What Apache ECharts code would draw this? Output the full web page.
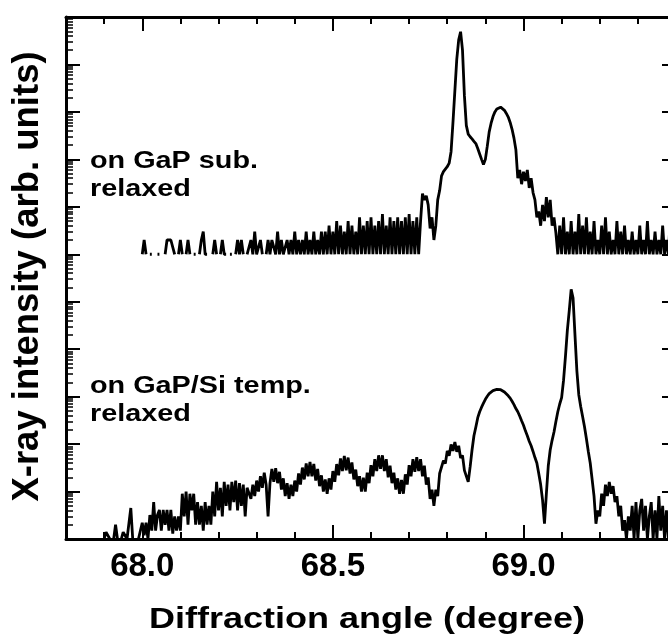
<!DOCTYPE html>
<html><head><meta charset="utf-8">
<script src="https://cdn.jsdelivr.net/npm/echarts@6/dist/echarts.min.js"></script>
<style>html,body{margin:0;padding:0;background:#fff;overflow:hidden}#c{width:690px;height:640px}</style>
</head><body><div id="c"></div>
<script>
// scan grid (degrees) shared by both measured curves
const scanStart = 67.88;
const scanStep = 0.005;
// vertical offset applied to the upper curve (GaP substrate)
const subOffset = 1e6;

// counts, on GaP substrate (null = zero counts)
const subCounts = [
  null,null,null,null,null,null,null,null,null,null,null,null,null,null,null,null,null,null,null,null,
  null,null,null,null,1,2,1,null,1,1,null,null,1,1,null,null,1,2,2,2,
  2,1,null,1,2,1,null,1,2,1,null,1,1,null,1,2,3,1,1,null,
  null,1,2,1,null,1,2,1,1,null,1,1,null,1,2,1,2,1,null,1,
  1,2,1,3,1,1,2,1,null,1,2,1,2,2,1,3,1,2,1,1,
  2,1,2,1,3,1,2,1,2,1,3,1,2,1,3,1,2,1,3,1,
  3,1,4,1,3,1,5,1,4,1,3,1,5,1,4,1,3,1,6,1,
  4,1,5,1,6,1,4,1,5,1,7,1,4,1,6,1,5,1,6,1,
  5,1,6,1,7,1,5,1,6,1,5,19,14,17,11,3.5,6,2,4,14,
  22,45,55,60,70,83,145,600,2800,13000,33000,49000,20000,2200,520,340,300,270,240,215,
  170,130,100,78,100,190,380,577,800,1000,1150,1240,1260,1200,1080,930,780,600,430,280,
  160,40,60,30,55,35,60,25,40,20,14,6,8,4,11,5,16,6,14,4,
  6,2.8,1,4,1,6,1,3,1,5,1,3,1,7,1,4,1,6,1,3,
  1,5,1,2,1,4,1,6,1,3,1,2,1,5,1,3,1,4,1,2,
  1,3,1,2,1,4,1,2,1,5,1,2,1,3,1,2,1,4,1,2,
  1,6,1,3,1,2,1,3,1
];

// counts, on GaP/Si template (null = zero counts)
const tempCounts = [
  null,null,null,null,1,1.4,1.4,1,null,1,2,1,null,1,1.4,1.4,1,1,4.5,1,
  null,null,1,1,2.2,1.2,2.2,1,3.2,1.5,6,1.5,3.2,4.1,1.5,4.1,2,4.1,1.5,4.1,
  1.3,3,1.5,3,1.5,9,3,10,2,9,4,9,2,6,2,5,1.5,6,2,5,
  2,10,3,16,4,12,3,16,5,14,4,16,6,17,4,15,5,14,3,12,
  12,7,14,8,17,10,21,12,25,14,3,15,30,16,31,15,26,11,19,8,
  15,7,14,8,17,10,24,14,32,18,39,21,42,21,38,17,30,13,22,10,
  18,9,19,11,27,16,38,22,50,27,56,28,52,24,41,18,29,13,21,10,
  19.5,10,25,15,36,21,48,27,58,30,58,27,48,20,35,15,25,11,19,9,
  17.5,9,23,14,36,21,48,26,53,27,48,21,35,14,20,7,11,5,11,8,
  24,22,45,39,72,57,98,72,110,69,92,51,58,28,30,16,33,75,150,230,
  360,480,600,730,880,1020,1160,1260,1340,1390,1420,1430,1400,1330,1250,1150,1040,930,800,680,
  560,480,390,310,250,190,150,115,92,70,52,40,24,14,6.6,2.1,9,35,75,120,
  180,300,480,700,950,2200,7000,25000,65000,183000,120000,20000,3500,1100,620,380,233,130,70,40,
  18,8,2.1,4,3,9,5,14,8,16,9,13,6,8,3,5,1.5,2.5,1,3,
  1.5,5,1,6,1,4,7,1.5,5,1,3,6,1,4,1,8,1.5,5,1,4,
  1,3,null,2,5,1,3,1,4
];

const angleMin = 67.8, angleMax = 69.4;
const angleLabels = [68.0, 68.5, 69.0];
const majorAngleTicks = [68.0, 68.5, 69.0];
const minorAngleTicks = [67.9,68.0,68.1,68.2,68.3,68.4,68.5,68.6,68.7,68.8,68.9,69.0,69.1,69.2,69.3];
const intensityMin = 1, intensityMax = 1e11;
const decadeTicks = [1,1e1,1e2,1e3,1e4,1e5,1e6,1e7,1e8,1e9,1e10,1e11];
const minorMultipliers = [2,3,4,5,6,7,8,9];

const minorIntensityTicks = [];
decadeTicks.slice(0, -1).forEach(d => minorMultipliers.forEach(m => minorIntensityTicks.push(d * m)));

const toSeries = (counts, factor) => counts.map((c, i) => [scanStart + i * scanStep, c == null ? null : c * factor]);

const FONT = '"Liberation Sans", Arial, Helvetica, sans-serif';

const xBase = {
  type: 'value', min: angleMin, max: angleMax,
  splitLine: { show: false }, axisLabel: { show: false },
  axisLine: { show: false }
};
const xAxes = [
  Object.assign({}, xBase, {
    position: 'bottom',
    axisLine: { show: true, onZero: false, lineStyle: { color: '#000', width: 3 } },
    axisTick: { show: true, inside: true, length: 7, customValues: minorAngleTicks, lineStyle: { color: '#000', width: 2 } },
    axisLabel: { show: true, customValues: angleLabels, margin: 11, color: '#000', fontSize: 33, fontWeight: 'bold', fontFamily: FONT,
      formatter: v => Number(v).toFixed(1) }
  }),
  Object.assign({}, xBase, {
    position: 'bottom',
    axisTick: { show: true, inside: true, length: 14, customValues: majorAngleTicks, lineStyle: { color: '#000', width: 2 } }
  }),
  Object.assign({}, xBase, {
    position: 'top',
    axisLine: { show: true, onZero: false, lineStyle: { color: '#000', width: 3 } },
    axisTick: { show: true, inside: true, length: 7, customValues: minorAngleTicks, lineStyle: { color: '#000', width: 2 } }
  }),
  Object.assign({}, xBase, {
    position: 'top',
    axisTick: { show: true, inside: true, length: 14, customValues: majorAngleTicks, lineStyle: { color: '#000', width: 2 } }
  })
];

const yBase = {
  type: 'log', logBase: 10, min: intensityMin, max: intensityMax,
  splitLine: { show: false }, axisLabel: { show: false }, axisLine: { show: false }
};
const yAxes = [
  Object.assign({}, yBase, {
    position: 'left',
    axisLine: { show: true, onZero: false, lineStyle: { color: '#000', width: 3 } },
    axisTick: { show: true, inside: true, length: 14, customValues: decadeTicks, lineStyle: { color: '#000', width: 2 } }
  }),
  Object.assign({}, yBase, {
    position: 'left',
    axisTick: { show: true, inside: true, length: 7, customValues: minorIntensityTicks, lineStyle: { color: '#000', width: 1.5 } }
  }),
  Object.assign({}, yBase, {
    position: 'right',
    axisLine: { show: true, onZero: false, lineStyle: { color: '#000', width: 3 } },
    axisTick: { show: true, inside: true, length: 14, customValues: decadeTicks, lineStyle: { color: '#000', width: 2 } }
  }),
  Object.assign({}, yBase, {
    position: 'right',
    axisTick: { show: true, inside: true, length: 7, customValues: minorIntensityTicks, lineStyle: { color: '#000', width: 1.5 } }
  })
];

const lineSeries = (name, data) => ({
  name, type: 'line', xAxisIndex: 0, yAxisIndex: 0, data,
  showSymbol: false, symbol: 'none', connectNulls: false, clip: true,
  lineStyle: { color: '#000', width: 2.8 }, emphasis: { disabled: true }
});

const chart = echarts.init(document.getElementById('c'), null, { renderer: 'canvas' });
chart.setOption({
  animation: false,
  backgroundColor: '#fff',
  grid: { left: 66, top: 17, width: 610, height: 522, containLabel: false },
  xAxis: xAxes,
  yAxis: yAxes,
  series: [
    lineSeries('on GaP sub.', toSeries(subCounts, subOffset)),
    lineSeries('on GaP/Si temp.', toSeries(tempCounts, 1))
  ],
  graphic: [
    { type: 'text', x: 90, y: 147.6, scaleX: 1.2, style: { text: 'on GaP sub.\nrelaxed', font: 'bold 24px ' + FONT, lineHeight: 28, fill: '#000', verticalAlign: 'top', align: 'left' } },
    { type: 'text', x: 90, y: 372.6, scaleX: 1.2, style: { text: 'on GaP/Si temp.\nrelaxed', font: 'bold 24px ' + FONT, lineHeight: 28, fill: '#000', verticalAlign: 'top', align: 'left' } },
    { type: 'text', x: 27.5, y: 276.5, rotation: Math.PI / 2, style: { text: 'X-ray intensity (arb. units)', font: 'bold 36.5px ' + FONT, fill: '#000', verticalAlign: 'middle', align: 'center' } },
    { type: 'text', x: 367, y: 620, scaleX: 1.2, style: { text: 'Diffraction angle (degree)', font: 'bold 30px ' + FONT, fill: '#000', verticalAlign: 'middle', align: 'center' } }
  ]
});
</script>
</body></html>
